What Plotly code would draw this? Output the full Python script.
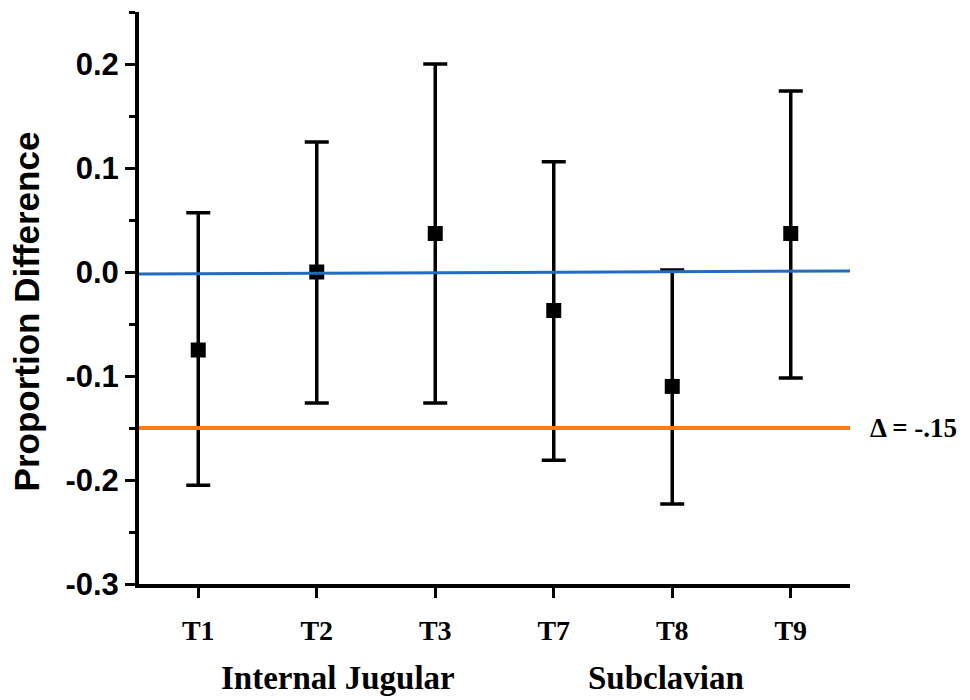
import plotly.graph_objects as go

# ---- data ----
categories = ["T1", "T2", "T3", "T7", "T8", "T9"]
estimates = [-0.075, 0.0, 0.037, -0.037, -0.110, 0.037]
upper_ci = [0.057, 0.125, 0.200, 0.106, 0.002, 0.174]
lower_ci = [-0.205, -0.126, -0.126, -0.181, -0.223, -0.102]
zero_line = [-0.002, 0.001]          # slightly tilted blue reference line (left, right)
delta_margin = -0.15
delta_label = "Δ = -.15"
group_labels = ["Internal Jugular", "Subclavian"]
y_tick_vals = [-0.3, -0.2, -0.1, 0.0, 0.1, 0.2]
y_tick_text = ["-0.3", "-0.2", "-0.1", "0.0", "0.1", "0.2"]
y_title = "Proportion Difference"

xpos = list(range(1, len(categories) + 1))
err_plus = [u - v for u, v in zip(upper_ci, estimates)]
err_minus = [v - l for v, l in zip(estimates, lower_ci)]

fig = go.Figure()
fig.add_trace(go.Scatter(
    x=xpos, y=estimates, mode="markers",
    marker=dict(symbol="square", size=15, color="black"),
    error_y=dict(type="data", symmetric=False, array=err_plus, arrayminus=err_minus,
                 color="black", thickness=3.5, width=12),
    showlegend=False, cliponaxis=False,
))

# reference lines
fig.add_shape(type="line", xref="paper", yref="y", x0=0, x1=1,
              y0=zero_line[0], y1=zero_line[1],
              line=dict(color="#1f6cc0", width=3), layer="above")
fig.add_shape(type="line", xref="paper", yref="y", x0=0, x1=1,
              y0=delta_margin, y1=delta_margin,
              line=dict(color="#ff7a12", width=4), layer="above")

serif_bold = dict(family="Liberation Serif", size=28, color="black", weight="bold")
sans_bold = dict(family="Liberation Sans", size=31, color="black", weight="bold")

fig.add_annotation(text=delta_label, xref="paper", yref="y", x=1.026, y=delta_margin,
                   xanchor="left", yanchor="middle", showarrow=False,
                   font=dict(family="Liberation Serif", size=27, color="black", weight="bold"))
fig.add_annotation(text=group_labels[0], xref="x", yref="paper", x=2.18, y=-0.164,
                   xanchor="center", yanchor="middle", showarrow=False,
                   font=dict(family="Liberation Serif", size=33, color="black", weight="bold"))
fig.add_annotation(text=group_labels[1], xref="x", yref="paper", x=4.95, y=-0.164,
                   xanchor="center", yanchor="middle", showarrow=False,
                   font=dict(family="Liberation Serif", size=33, color="black", weight="bold"))
fig.add_annotation(text=y_title, xref="paper", yref="paper", x=-0.158, y=0.476,
                   xanchor="center", yanchor="middle", textangle=-90, showarrow=False,
                   font=dict(family="Liberation Sans", size=35, color="black", weight="bold"))

fig.update_xaxes(
    range=[0.5, 6.5], tickmode="array", tickvals=xpos, ticktext=categories,
    showline=True, linecolor="black", linewidth=4, mirror=False,
    ticks="outside", ticklen=10, tickwidth=3, tickcolor="black", ticklabelstandoff=8,
    showgrid=False, zeroline=False, tickfont=serif_bold,
)
fig.update_yaxes(
    range=[-0.3, 0.25], tickmode="array", tickvals=y_tick_vals, ticktext=y_tick_text,
    showline=True, linecolor="black", linewidth=4, mirror=False,
    ticks="outside", ticklen=10, tickwidth=3, tickcolor="black", ticklabelstandoff=0,
    minor=dict(dtick=0.05, tick0=0, ticks="outside", ticklen=6, tickwidth=3, tickcolor="black", showgrid=False),
    showgrid=False, zeroline=False, tickfont=sans_bold,
)

# page body has an 8px default margin; margins compensate so the plot area lands where the reference has it
fig.update_layout(
    width=970, height=700,
    margin=dict(l=131, r=128, t=4, b=124),
    plot_bgcolor="white", paper_bgcolor="white",
    showlegend=False,
)

fig.write_html("out.html")
